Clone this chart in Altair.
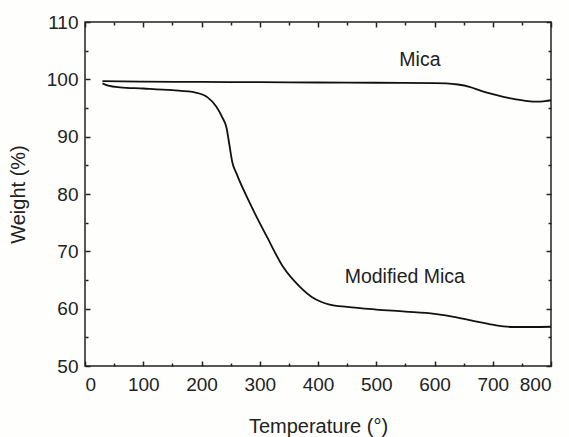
import altair as alt
import pandas as pd

mica_temp = [30, 100, 200, 300, 400, 500, 600, 620, 640, 660, 680, 700, 720, 740, 760, 775, 790, 800]
mica_w = [99.7, 99.6, 99.55, 99.5, 99.45, 99.4, 99.35, 99.3, 99.1, 98.7, 98.0, 97.4, 96.9, 96.5, 96.2, 96.1, 96.2, 96.35]

mod_temp = [30, 40, 60, 100, 150, 190, 210, 225, 235, 243, 248, 253, 260, 283, 312, 340, 369, 390, 405, 420, 450, 500, 550, 600, 638, 670, 700, 735, 770, 800]
mod_w = [99.3, 98.9, 98.6, 98.4, 98.1, 97.7, 96.9, 95.3, 93.5, 91.5, 88.5, 85.5, 83.6, 78.4, 72.6, 67.3, 63.8, 62.0, 61.2, 60.7, 60.3, 59.85, 59.5, 59.1, 58.5, 57.8, 57.2, 56.8, 56.8, 56.85]

label_text = ["Mica", "Modified Mica"]
label_x = [575, 549]
label_y = [103.4, 65.6]

x_major = [0, 100, 200, 300, 400, 500, 600, 700, 800]
x_minor = [50, 150, 250, 350, 450, 550, 650, 750]
y_major = [50, 60, 70, 80, 90, 100, 110]
y_minor = [55, 65, 75, 85, 95, 105]

mica = pd.DataFrame({"t": mica_temp, "w": mica_w})
mod = pd.DataFrame({"t": mod_temp, "w": mod_w})
labels = pd.DataFrame({"text": label_text, "t": label_x, "w": label_y})

FONT = "Liberation Sans"
xs = alt.Scale(domain=[0, 800], nice=False, zero=False)
ys = alt.Scale(domain=[50, 110], nice=False, zero=False)

def xaxis(orient, values, size, labels_on, title=None):
    kw = dict(orient=orient, values=values, tickSize=size, offset=-size, domain=False,
              grid=False, labels=labels_on, tickColor="#222", tickWidth=1.5,
              labelFont=FONT, labelFontSize=19, labelColor="#222", labelPadding=9,
              titleFont=FONT, titleFontSize=20, titleFontWeight="normal", titleColor="#222",
              titlePadding=22)
    return alt.Axis(title=title, **kw)

def yaxis(orient, values, size, labels_on, title=None):
    kw = dict(orient=orient, values=values, tickSize=size, offset=-size, domain=False,
              grid=False, labels=labels_on, tickColor="#222", tickWidth=1.5,
              labelFont=FONT, labelFontSize=19, labelColor="#222", labelPadding=7,
              titleFont=FONT, titleFontSize=20, titleFontWeight="normal", titleColor="#222",
              titlePadding=18)
    return alt.Axis(title=title, **kw)

l1 = alt.Chart(mod).mark_line(color="#111", strokeWidth=1.8, interpolate="monotone").encode(
    x=alt.X("t:Q", scale=xs, axis=xaxis("bottom", x_major, 5, True, "Temperature (°)")),
    y=alt.Y("w:Q", scale=ys, axis=yaxis("left", y_major, 5, True, "Weight (%)")),
)
l2 = alt.Chart(mica).mark_line(color="#111", strokeWidth=1.8, interpolate="monotone").encode(
    x=alt.X("t:Q", scale=xs, axis=xaxis("bottom", x_minor, 3, False)),
    y=alt.Y("w:Q", scale=ys, axis=yaxis("left", y_minor, 3, False)),
)
l3 = alt.Chart(labels).mark_text(font=FONT, fontSize=19.5, color="#222").encode(
    x=alt.X("t:Q", scale=xs, axis=xaxis("top", x_major, 5, False)),
    y=alt.Y("w:Q", scale=ys, axis=yaxis("right", y_major, 5, False)),
    text="text:N",
)
l4 = alt.Chart(labels).mark_text(opacity=0).encode(
    x=alt.X("t:Q", scale=xs, axis=xaxis("top", x_minor, 3, False)),
    y=alt.Y("w:Q", scale=ys, axis=yaxis("right", y_minor, 3, False)),
    text="text:N",
)

chart = alt.layer(l1, l2, l3, l4).resolve_axis(x="independent", y="independent").properties(
    width=466, height=344,
    autosize=alt.AutoSizeParams(type="none"),
    padding={"left": 85, "top": 22, "right": 18, "bottom": 71},
    background="#fefefc",
).configure_view(stroke="#222", strokeWidth=1.5)

chart.save("out.html", embed_options={"renderer": "svg", "actions": False})
